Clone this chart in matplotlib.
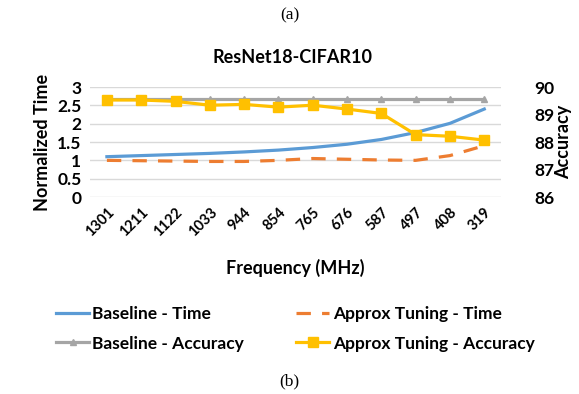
import matplotlib.pyplot as plt

plt.rcParams['font.family'] = ['Lato', 'DejaVu Sans']

freqs = ['1301', '1211', '1122', '1033', '944', '854', '765', '676', '587', '497', '408', '319']
baseline_time = [1.10, 1.13, 1.16, 1.19, 1.23, 1.28, 1.35, 1.44, 1.57, 1.76, 2.01, 2.40]
approx_time = [1.00, 0.99, 0.98, 0.97, 0.97, 1.00, 1.05, 1.03, 1.01, 1.00, 1.13, 1.40]
baseline_acc = [89.55] * 12
approx_acc = [89.53, 89.53, 89.48, 89.34, 89.37, 89.27, 89.34, 89.20, 89.04, 88.27, 88.21, 88.07]

BLUE = '#5B9BD5'
ORANGE = '#ED7D31'
GRAY = '#A5A5A5'
YELLOW = '#FFC000'

fig = plt.figure(figsize=(5.79, 3.94), dpi=100)
ax = fig.add_axes([0.155, 0.50, 0.711, 0.279])
ax2 = ax.twinx()

x = list(range(len(freqs)))
l1, = ax.plot(x, baseline_time, color=BLUE, lw=2.3, label='Baseline - Time', zorder=3)
l2, = ax.plot(x, approx_time, color=ORANGE, lw=2.3, ls=(0, (4.5, 3.5)), label='Approx Tuning - Time', zorder=3)
l3, = ax2.plot(x, baseline_acc, color=GRAY, lw=2.3, marker='^', ms=5, label='Baseline - Accuracy')
l4, = ax2.plot(x, approx_acc, color=YELLOW, lw=2.3, marker='s', ms=7, label='Approx Tuning - Accuracy')

ax.set_xlim(-0.5, len(freqs) - 0.5)
ax.set_ylim(0, 3)
ax2.set_ylim(86, 90)
ax.set_yticks([0, 0.5, 1, 1.5, 2, 2.5, 3])
ax.set_yticklabels(['0', '0.5', '1', '1.5', '2', '2.5', '3'])
ax2.set_yticks([86, 87, 88, 89, 90])
ax.yaxis.grid(True, color='#D9D9D9', lw=1)
ax.set_axisbelow(True)

for a in (ax, ax2):
    for s in a.spines.values():
        s.set_visible(False)
    a.tick_params(length=0, labelsize=12.5)
    for t in a.get_yticklabels():
        t.set_fontweight('bold')

ax.tick_params(axis='y', pad=6)
ax2.tick_params(axis='y', pad=24)
ax.set_xticks(x)
ax.set_xticklabels(freqs, rotation=45, ha='right', rotation_mode='anchor',
                   fontsize=10.5, fontweight='bold')
ax.tick_params(axis='x', pad=6)

ax.set_ylabel('Normalized Time', fontsize=13, fontweight='bold', labelpad=4)
ax2.set_ylabel('Accuracy', fontsize=13, fontweight='bold', labelpad=0)
ax.set_xlabel('Frequency (MHz)', fontsize=13, fontweight='bold', labelpad=14)

fig.text(0.505, 0.855, 'ResNet18-CIFAR10', ha='center', va='center', fontsize=13, fontweight='bold')
fig.text(0.5, 0.962, '(a)', ha='center', va='center', fontsize=12.5, family='Liberation Serif')
fig.text(0.5, 0.033, '(b)', ha='center', va='center', fontsize=12.5, family='Liberation Serif')

fig.legend([l1, l3, l2, l4], [h.get_label() for h in (l1, l3, l2, l4)],
           ncol=2, frameon=False, loc='center', bbox_to_anchor=(0.51, 0.165),
           handlelength=1.9, handletextpad=0.2, columnspacing=3.0, labelspacing=0.75,
           prop={'weight': 'bold', 'size': 12.5})

plt.savefig('out.png', dpi=100)
